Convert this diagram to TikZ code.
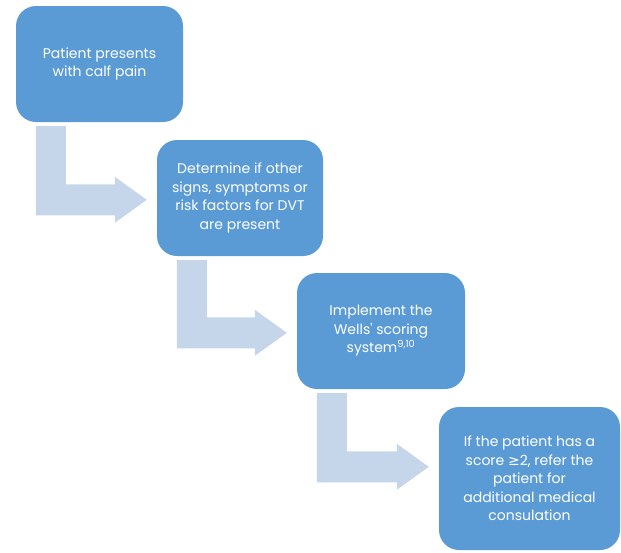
\documentclass[tikz,border=0pt]{standalone}
\usepackage{fontspec}
\setmainfont{Poppins}
\newfontfamily\symfont{DejaVu Sans}
\usetikzlibrary{calc}
\definecolor{boxblue}{HTML}{5B9BD5}
\definecolor{arrowblue}{HTML}{C5D5EA}
\tikzset{
  stepbox/.style={rectangle, rounded corners=20pt, fill=boxblue, text=white,
    align=center, inner sep=0pt, font=\fontsize{14}{18.5}\selectfont},
  arrowshape/.style={fill=arrowblue}
}
\newcommand{\stairarrow}[3]{%
  \coordinate (#3s) at ($(#1.south west)+(20,4)$);
  \coordinate (#3t) at ($(#2.west|-#2.north)+(-10,60)$);
  \fill[arrowshape] (#3s) -- ++(30,0) |- ($(#3t)+(-32,-15.5)$) -- ++(0,-7.5) -- (#3t)
    -- ($(#3t)+(-32,23)$) -- ++(0,-7.5) -| (#3s) -- cycle;
}
\begin{document}
\begin{tikzpicture}[x=1pt,y=-1pt]
\useasboundingbox (0,0) rectangle (621,552);
\node[stepbox, minimum width=167pt, minimum height=116pt] (b1) at (99.5,64)
  {Patient presents\\with calf pain};
\node[stepbox, minimum width=166pt, minimum height=116pt] (b2) at (240,198)
  {Determine if other\\signs, symptoms or\\risk factors for DVT\\are present};
\node[stepbox, minimum width=168pt, minimum height=116pt] (b3) at (381,331)
  {Implement the\\Wells\textquotesingle\ scoring\\system\textsuperscript{9,10}};
\node[stepbox, minimum width=181pt, minimum height=143pt] (b4) at (529.5,478.5)
  {If the patient has a\\score {\symfont ≥}2, refer the\\patient for\\additional medical\\consulation};
\stairarrow{b1}{b2}{a1}
\stairarrow{b2}{b3}{a2}
\stairarrow{b3}{b4}{a3}
\end{tikzpicture}
\end{document}
